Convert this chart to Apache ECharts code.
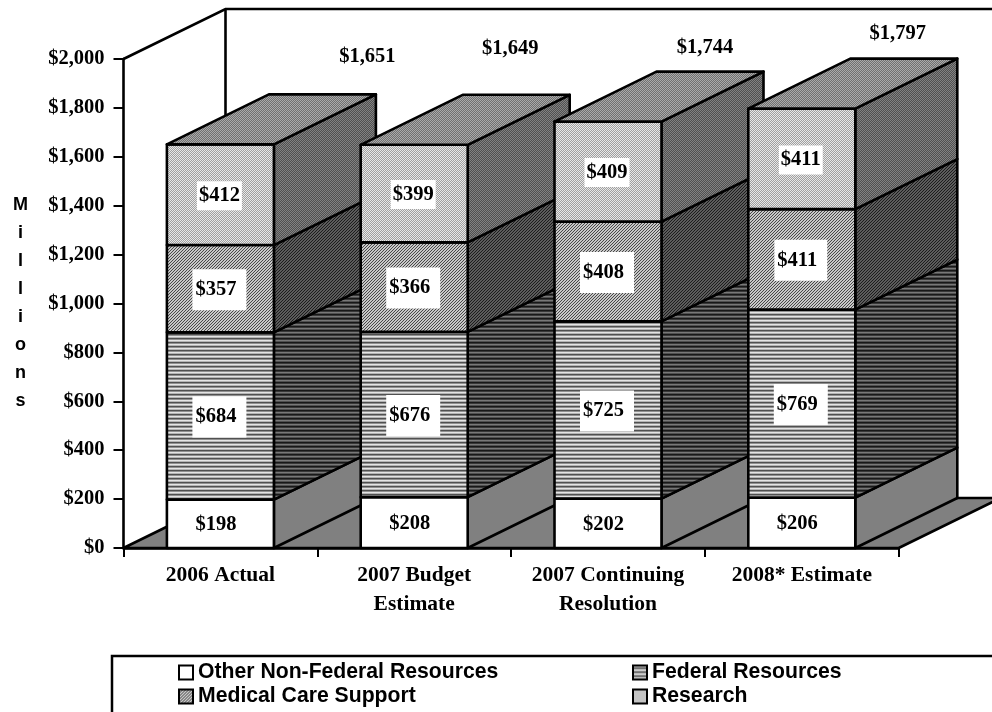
<!DOCTYPE html>
<html>
<head>
<meta charset="utf-8">
<title>Resources by fiscal year</title>
<script src="https://cdn.jsdelivr.net/npm/echarts@6/dist/echarts.min.js"></script>
<style>
html, body { margin: 0; padding: 0; background: #fff; }
#chart { width: 992px; height: 712px; }
</style>
</head>
<body>
<div id="chart"></div>
<script>
// Budget figures, in millions of dollars
const categories = ['2006 Actual', '2007 Budget\nEstimate', '2007 Continuing\nResolution', '2008* Estimate'];
const otherNonFederal = [198, 208, 202, 206];
const federal = [684, 676, 725, 769];
const medicalSupport = [357, 366, 408, 411];
const research = [412, 399, 409, 411];
const totals = [1651, 1649, 1744, 1797];
const seriesNames = ['Other Non-Federal Resources', 'Federal Resources', 'Medical Care Support', 'Research'];

// Drawing constants: oblique depth of the boxes, bar proportion, label placement
const DEPTH_X = 102;
const DEPTH_Y = -50;
const BAR_RATIO = 107 / 193.8;
const TOTAL_OFFSETS = [[147, -87.5], [96, -96.5], [97, -73.5], [96, -74.5]];
const SERIF = '"Liberation Serif", serif';
const SANS = '"Liberation Sans", Arial, sans-serif';
const LABEL_SIZE = 20.5;

// Pixel tiles used as fills
function tile(size, paint) {
  const c = document.createElement('canvas');
  c.width = c.height = size;
  const ctx = c.getContext('2d');
  for (let y = 0; y < size; y++) {
    for (let x = 0; x < size; x++) {
      ctx.fillStyle = paint(x, y);
      ctx.fillRect(x, y, 1, 1);
    }
  }
  return { image: c, repeat: 'repeat' };
}
const dots = (a, b) => tile(4, (x, y) => ((x + y) % 2 === 0 ? a : b));
const rows = list => tile(list.length, (x, y) => list[y]);
const hatch = (a, b) => tile(3, (x, y) => ((x + y) % 3 === 0 ? b : a));

const fills = [
  { front: '#ffffff', side: '#808080' },
  { front: rows(['#e4e4e4', '#b4b4b4', '#505050', '#909090']), side: rows(['#787878', '#505050', '#181818', '#383838']) },
  { front: hatch('#c8c8c8', '#484848'), side: hatch('#5c5c5c', '#1c1c1c') },
  { front: dots('#e8e8e8', '#a0a0a0'), side: dots('#828282', '#505050') }
];
const topFill = dots('#aaaaaa', '#707070');

const OUTLINE = { stroke: '#000', lineWidth: 2.6, lineJoin: 'round' };

// One stacked box segment: front, side and, for the last segment, the lid
function segmentRenderer(seriesIndex, values) {
  return function (params, api) {
    const cat = api.value(0);
    const low = api.coord([cat, api.value(1)]);
    const high = api.coord([cat, api.value(2)]);
    const w = api.size([1, 0])[0] * BAR_RATIO;
    const x0 = low[0] - w / 2;
    const x1 = low[0] + w / 2;
    const z = cat * 10 + seriesIndex;
    const fill = fills[seriesIndex];
    const children = [
      {
        type: 'polygon', z2: z,
        shape: { points: [[x1, low[1]], [x1 + DEPTH_X, low[1] + DEPTH_Y], [x1 + DEPTH_X, high[1] + DEPTH_Y], [x1, high[1]]] },
        style: Object.assign({ fill: fill.side }, OUTLINE)
      },
      {
        type: 'polygon', z2: z,
        shape: { points: [[x0, low[1]], [x1, low[1]], [x1, high[1]], [x0, high[1]]] },
        style: Object.assign({ fill: fill.front }, OUTLINE)
      },
      {
        type: 'text', z2: 200,
        style: {
          x: low[0] - 1, y: (low[1] + high[1]) / 2 + 1,
          text: '$' + values[cat],
          align: 'center', verticalAlign: 'middle',
          font: 'bold ' + LABEL_SIZE + 'px ' + SERIF, fill: '#000',
          backgroundColor: '#fff',
          padding: seriesIndex === 3 ? [4, 2, 4, 2] : [10, 10, 10, 3]
        }
      }
    ];
    if (seriesIndex === 3) {
      children.push({
        type: 'polygon', z2: z,
        shape: { points: [[x0, high[1]], [x1, high[1]], [x1 + DEPTH_X, high[1] + DEPTH_Y], [x0 + DEPTH_X, high[1] + DEPTH_Y]] },
        style: Object.assign({ fill: topFill }, OUTLINE)
      });
    }
    return { type: 'group', children: children };
  };
}

const stacks = [otherNonFederal, federal, medicalSupport, research];
const running = categories.map(() => 0);
const boxSeries = stacks.map((values, s) => {
  const data = values.map((v, i) => {
    const row = [i, running[i], running[i] + v];
    running[i] += v;
    return row;
  });
  return {
    type: 'custom',
    name: seriesNames[s],
    z: 3,
    renderItem: segmentRenderer(s, values),
    encode: { x: 0, y: [1, 2] },
    data: data,
    silent: true
  };
});

// Floor and back wall of the oblique chart box
const wallSeries = {
  type: 'custom',
  z: 1,
  silent: true,
  data: [[0, 0]],
  encode: { x: 0, y: 1 },
  renderItem: function (params) {
    const g = params.coordSys;
    const left = g.x, right = g.x + g.width, top = g.y, bottom = g.y + g.height;
    return {
      type: 'group',
      children: [
        {
          type: 'polygon',
          shape: { points: [[left, bottom], [right, bottom], [right + DEPTH_X, bottom + DEPTH_Y], [left + DEPTH_X, bottom + DEPTH_Y]] },
          style: Object.assign({ fill: '#808080' }, OUTLINE)
        },
        {
          type: 'polyline',
          shape: { points: [[left, top], [left + DEPTH_X, top + DEPTH_Y], [right + DEPTH_X, top + DEPTH_Y]] },
          style: { fill: 'none', stroke: '#000', lineWidth: 2.6 }
        },
        {
          type: 'line',
          shape: { x1: left + DEPTH_X, y1: top + DEPTH_Y, x2: left + DEPTH_X, y2: bottom + DEPTH_Y },
          style: { stroke: '#000', lineWidth: 2.6 }
        }
      ]
    };
  }
};

// Totals float above each box
const totalSeries = {
  type: 'scatter',
  z: 4,
  symbolSize: 0,
  silent: true,
  itemStyle: { opacity: 1 },
  data: totals.map((t, i) => ({
    value: [i, t],
    label: {
      show: true,
      position: 'inside',
      offset: TOTAL_OFFSETS[i],
      formatter: () => '$' + t.toLocaleString('en-US'),
      fontFamily: SERIF,
      fontWeight: 'bold',
      fontSize: LABEL_SIZE,
      color: '#000',
      opacity: 1
    }
  }))
};

// Each legend entry is placed on its own so the two columns line up
function legendEntry(left, top, index) {
  return {
    left: left,
    top: top,
    selectedMode: false,
    icon: 'rect',
    itemWidth: 14,
    itemHeight: 14,
    padding: 0,
    textStyle: { fontFamily: SANS, fontWeight: 'bold', fontSize: 21.2, color: '#000', lineHeight: 20, padding: [1, 0, 0, 0] },
    data: [{ name: seriesNames[index], itemStyle: { color: fills[index].front, borderColor: '#000', borderWidth: 2 } }]
  };
}

const chart = echarts.init(document.getElementById('chart'), null, { renderer: 'canvas' });
chart.setOption({
  animation: false,
  backgroundColor: '#fff',
  grid: { left: 123.5, top: 59, width: 775.2, height: 489, containLabel: false },
  legend: [
    legendEntry(178, 662, 0),
    legendEntry(632, 662, 1),
    legendEntry(178, 686, 2),
    legendEntry(632, 686, 3)
  ],
  graphic: [{
    type: 'rect',
    shape: { x: 112, y: 656, width: 1000, height: 120 },
    style: { fill: 'none', stroke: '#000', lineWidth: 2.5 }
  }],
  xAxis: {
    type: 'category',
    data: categories,
    axisLine: { lineStyle: { color: '#000', width: 2.6 } },
    axisTick: { show: true, alignWithLabel: false, length: 9, lineStyle: { color: '#000', width: 2 } },
    axisLabel: { color: '#000', fontFamily: SERIF, fontWeight: 'bold', fontSize: 21.5, lineHeight: 29, margin: 13, interval: 0 }
  },
  yAxis: {
    type: 'value',
    min: 0,
    max: 2000,
    interval: 200,
    name: 'M\ni\nl\nl\ni\no\nn\ns',
    nameLocation: 'middle',
    nameRotate: 0,
    nameGap: 103,
    nameTextStyle: { color: '#000', fontFamily: SANS, fontWeight: 'bold', fontSize: 18, lineHeight: 28, align: 'center', verticalAlign: 'middle', padding: [5, 0, 0, 0] },
    splitLine: { show: false },
    axisLine: { show: true, lineStyle: { color: '#000', width: 2.6 } },
    axisTick: { show: true, length: 10, lineStyle: { color: '#000', width: 2 } },
    axisLabel: {
      color: '#000', fontFamily: SERIF, fontWeight: 'bold', fontSize: LABEL_SIZE, margin: 19, padding: [2, 0, 0, 0],
      formatter: v => '$' + v.toLocaleString('en-US')
    }
  },
  series: [wallSeries].concat(boxSeries, [totalSeries])
});
</script>
</body>
</html>
